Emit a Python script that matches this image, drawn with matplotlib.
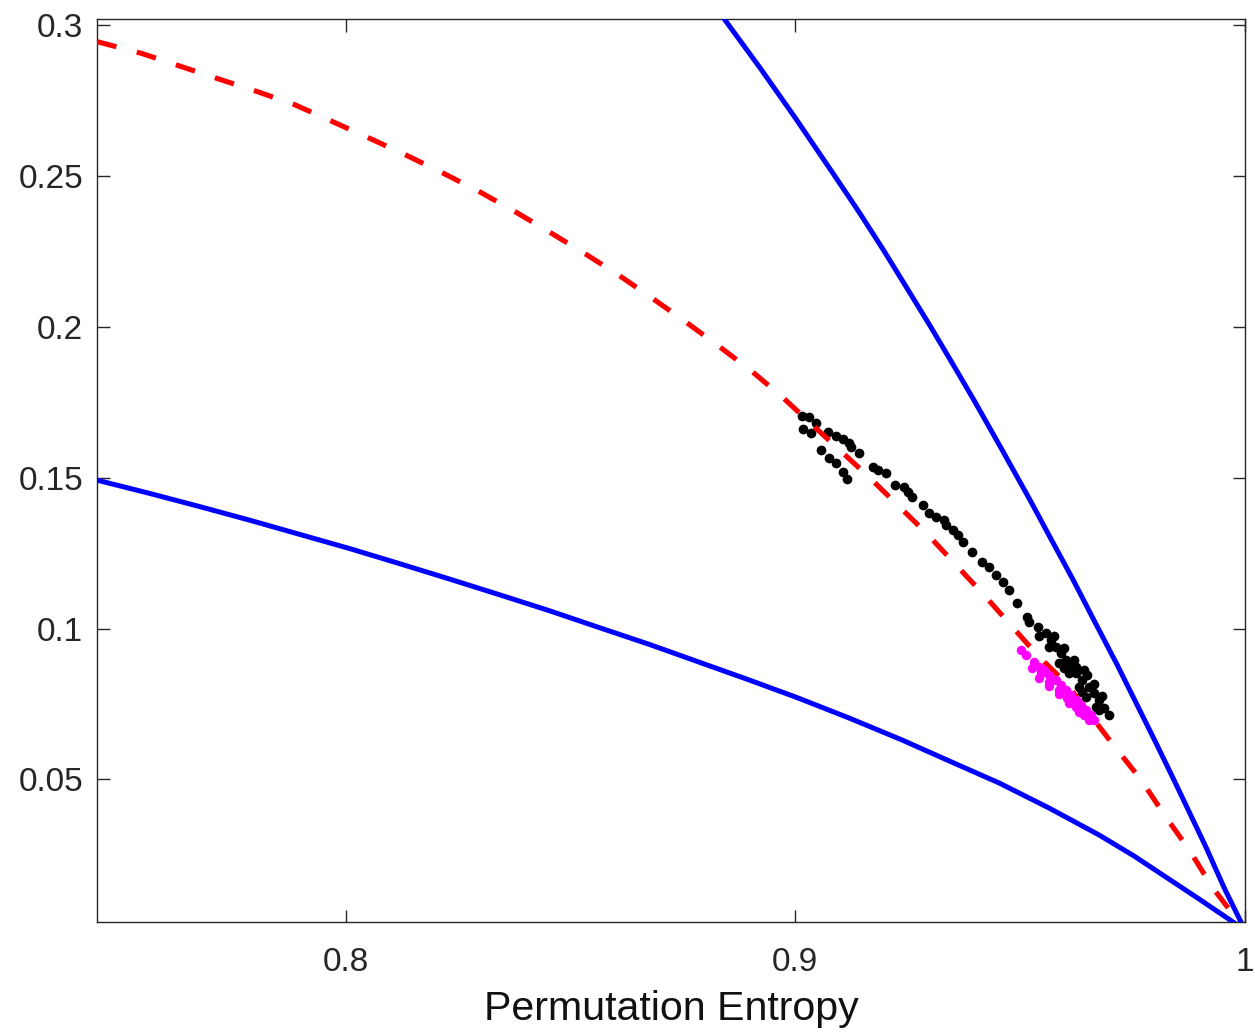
import matplotlib
matplotlib.use("Agg")
import matplotlib.pyplot as plt

plt.rcParams["font.family"] = ["Liberation Sans", "DejaVu Sans"]

# Complexity-entropy plane: theoretical bounds (blue) and reference curve (red)
upper_H = [0.8778, 0.8842, 0.8922, 0.9000, 0.9088, 0.9143, 0.9196, 0.9251,
           0.9300, 0.9349, 0.9397, 0.9460, 0.9522, 0.9570, 0.9618, 0.9664,
           0.9716, 0.9755, 0.9799, 0.9842, 0.9913, 0.9956, 1.0000]
upper_C = [0.3151, 0.3021, 0.2858, 0.2693, 0.2500, 0.2378, 0.2255, 0.2122,
           0.2003, 0.1880, 0.1758, 0.1592, 0.1426, 0.1293, 0.1161, 0.1028,
           0.0879, 0.0762, 0.0630, 0.0498, 0.0276, 0.0133, 0.0000]

lower_H = [0.7447, 0.7564, 0.7676, 0.7787, 0.7898, 0.8009, 0.8120, 0.8231,
           0.8342, 0.8453, 0.8564, 0.8676, 0.8787, 0.8898, 0.9002, 0.9120,
           0.9238, 0.9342, 0.9453, 0.9564, 0.9676, 0.9753, 0.9824, 0.9898,
           1.0000]
lower_C = [0.1492, 0.1448, 0.1404, 0.1359, 0.1312, 0.1265, 0.1215, 0.1164,
           0.1112, 0.1059, 0.1003, 0.0947, 0.0888, 0.0829, 0.0772, 0.0703,
           0.0630, 0.0561, 0.0488, 0.0405, 0.0315, 0.0246, 0.0176, 0.0103,
           0.0000]

ref_H = [0.7447, 0.7546, 0.7635, 0.7720, 0.7804, 0.7888, 0.7972, 0.8054,
         0.8138, 0.8218, 0.8298, 0.8377, 0.8454, 0.8531, 0.8607, 0.8682,
         0.8756, 0.8829, 0.8900, 0.8970, 0.9038, 0.9164, 0.9291, 0.9424,
         0.9542, 0.9602, 0.9702, 0.9769, 0.9824, 0.9876, 0.9927, 1.0000]
ref_C = [0.2946, 0.2907, 0.2863, 0.2821, 0.2780, 0.2736, 0.2680, 0.2625,
         0.2567, 0.2509, 0.2448, 0.2382, 0.2314, 0.2244, 0.2172, 0.2095,
         0.2017, 0.1937, 0.1857, 0.1769, 0.1675, 0.1502, 0.1317, 0.1104,
         0.0906, 0.0819, 0.0624, 0.0498, 0.0375, 0.0266, 0.0143, 0.0000]

# Measured series
black_H = [0.9015, 0.9031, 0.9046, 0.9018, 0.9035, 0.9072, 0.9090, 0.9105,
           0.9120, 0.9124, 0.9142, 0.9057, 0.9076, 0.9090, 0.9105, 0.9116,
           0.9172, 0.9183, 0.9202, 0.9222, 0.9242, 0.9250, 0.9259, 0.9283,
           0.9298, 0.9313, 0.9331, 0.9335, 0.9350, 0.9361, 0.9372, 0.9394,
           0.9416, 0.9431, 0.9446, 0.9461, 0.9476, 0.9494, 0.9516, 0.9539,
           0.9557, 0.9568, 0.9579, 0.9590, 0.9602, 0.9613, 0.9624, 0.9638,
           0.9653, 0.9664, 0.9676, 0.9687, 0.9698, 0.9564, 0.9587, 0.9609,
           0.9631, 0.9646, 0.9668, 0.9649, 0.9624, 0.9576, 0.9598, 0.9620,
           0.9642, 0.9664, 0.9682, 0.9542, 0.9598, 0.9638, 0.9676, 0.9520]
black_C = [0.1705, 0.1702, 0.1682, 0.1660, 0.1647, 0.1653, 0.1638, 0.1627,
           0.1616, 0.1603, 0.1581, 0.1592, 0.1564, 0.1548, 0.1520, 0.1495,
           0.1536, 0.1526, 0.1517, 0.1476, 0.1468, 0.1454, 0.1437, 0.1409,
           0.1382, 0.1371, 0.1360, 0.1343, 0.1327, 0.1310, 0.1288, 0.1255,
           0.1221, 0.1205, 0.1177, 0.1155, 0.1128, 0.1084, 0.1039, 0.1006,
           0.0984, 0.0962, 0.0940, 0.0918, 0.0896, 0.0873, 0.0851, 0.0829,
           0.0807, 0.0785, 0.0763, 0.0735, 0.0713, 0.0940, 0.0885, 0.0851,
           0.0807, 0.0774, 0.0741, 0.0845, 0.0873, 0.0975, 0.0935, 0.0896,
           0.0862, 0.0816, 0.0776, 0.0975, 0.0869, 0.0789, 0.0730, 0.1022]

magenta_H = [0.9502, 0.9513, 0.9531, 0.9542, 0.9553, 0.9564, 0.9579, 0.9590,
             0.9602, 0.9613, 0.9624, 0.9635, 0.9646, 0.9657, 0.9664, 0.9527,
             0.9546, 0.9564, 0.9587, 0.9605, 0.9624, 0.9642, 0.9653, 0.9542,
             0.9564, 0.9587, 0.9609, 0.9631]
magenta_C = [0.0929, 0.0912, 0.0890, 0.0873, 0.0862, 0.0846, 0.0829, 0.0813,
             0.0796, 0.0780, 0.0763, 0.0746, 0.0730, 0.0713, 0.0697, 0.0868,
             0.0851, 0.0824, 0.0796, 0.0769, 0.0741, 0.0713, 0.0697, 0.0836,
             0.0809, 0.0783, 0.0753, 0.0723]

x_ticks = [0.8, 0.9, 1.0]
x_tick_labels = ["0.8", "0.9", "1"]
y_ticks = [0.05, 0.1, 0.15, 0.2, 0.25, 0.3]
y_tick_labels = ["0.05", "0.1", "0.15", "0.2", "0.25", "0.3"]

fig = plt.figure(figsize=(12.55, 10.33), dpi=100)
ax = fig.add_axes([0.0773, 0.1075, 0.9147, 0.8741])

ax.plot(black_H, black_C, linestyle="none", marker="o", markersize=7.0,
        markerfacecolor="black", markeredgecolor="none", zorder=2)
ax.plot(ref_H, ref_C, color="#ff0000", linewidth=3.7, linestyle=(0, (3.9, 4.1)),
        zorder=3)
ax.plot(magenta_H, magenta_C, linestyle="none", marker="o", markersize=6.8,
        markerfacecolor="#ff00ff", markeredgecolor="none", zorder=4)
ax.plot(upper_H, upper_C, color="#0000ff", linewidth=3.6, zorder=5)
ax.plot(lower_H, lower_C, color="#0000ff", linewidth=3.6, zorder=5)

ax.set_xlim(0.7447, 1.0)
ax.set_ylim(0.0027, 0.3021)
ax.set_xticks(x_ticks)
ax.set_xticklabels(x_tick_labels)
ax.set_yticks(y_ticks)
ax.set_yticklabels(y_tick_labels)

ax.tick_params(axis="both", which="major", direction="in", length=9,
               width=1.0, color="#262626", labelsize=24, labelcolor="#262626",
               top=True, right=True)
ax.tick_params(axis="x", pad=18)
ax.tick_params(axis="y", pad=10)
for sp in ax.spines.values():
    sp.set_color("#262626")
    sp.set_linewidth(1.0)

ax.set_xlabel("Permutation Entropy", fontsize=29.6, color="#111111", labelpad=9)

fig.savefig("out.png", dpi=100, facecolor="white")
